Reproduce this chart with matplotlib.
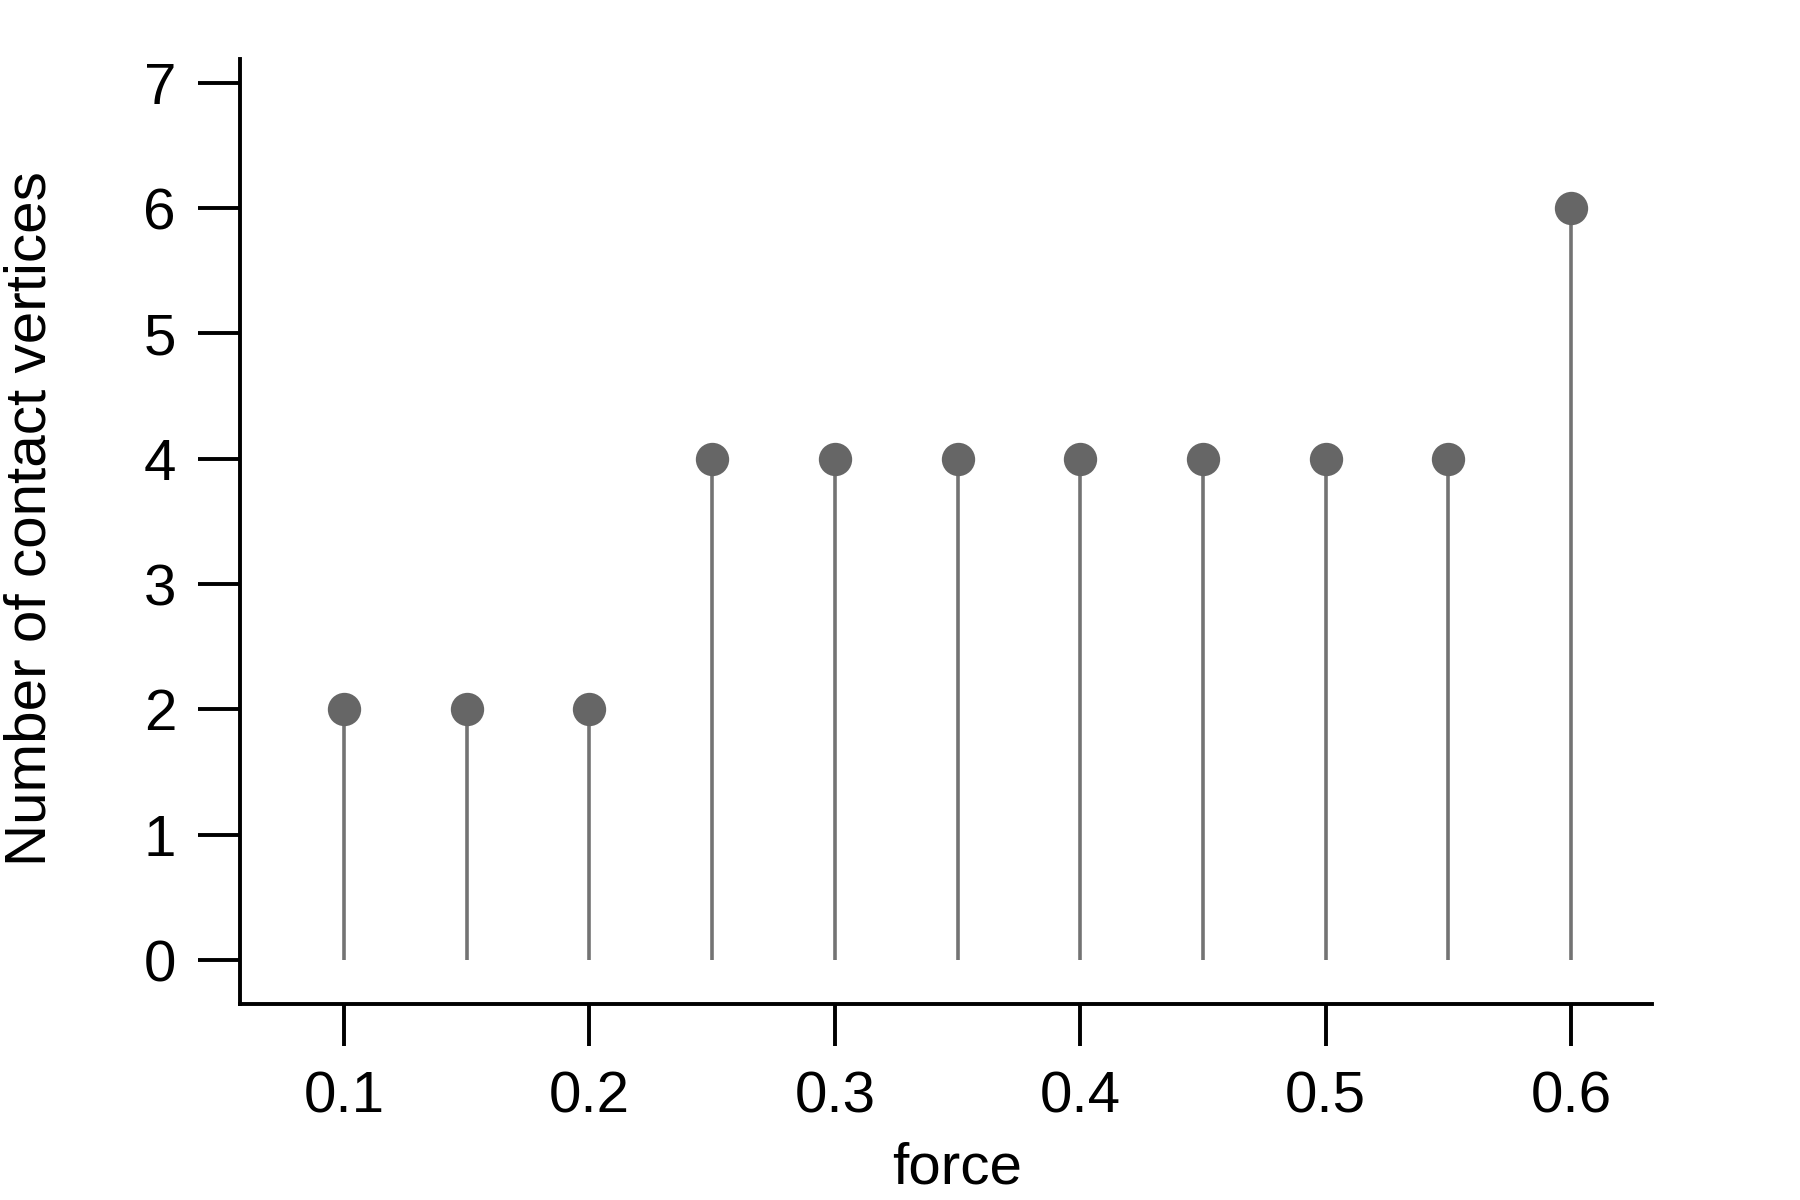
import matplotlib
matplotlib.use("Agg")
import matplotlib.pyplot as plt
import numpy as np

# data
force = [0.10, 0.15, 0.20, 0.25, 0.30, 0.35, 0.40, 0.45, 0.50, 0.55, 0.60]
contact_vertices = [2, 2, 2, 4, 4, 4, 4, 4, 4, 4, 6]
xticks = [0.1, 0.2, 0.3, 0.4, 0.5, 0.6]
yticks = [0, 1, 2, 3, 4, 5, 6, 7]

plt.rcParams['font.family'] = ['Liberation Sans', 'DejaVu Sans']

fig = plt.figure(figsize=(9, 6), dpi=200)
ax = fig.add_axes([0.1333, 0.1633, 0.7845, 0.7875])

markerline, stemlines, baseline = ax.stem(force, contact_vertices, basefmt=" ")
plt.setp(stemlines, color='#737373', linewidth=1.3)
plt.setp(markerline, color='#666666', markersize=12, markeredgewidth=0)
baseline.set_visible(False)

ax.set_xlim(0.0576, 0.633)
ax.set_ylim(-0.351, 7.19)
ax.set_xticks(xticks)
ax.set_xticklabels([f"{t:.1f}" for t in xticks])
ax.set_yticks(yticks)

for side in ['top', 'right']:
    ax.spines[side].set_visible(False)
for side in ['left', 'bottom']:
    ax.spines[side].set_linewidth(1.4)

ax.tick_params(axis='both', direction='out', length=15, width=1.4,
               labelsize=21, colors='black')
ax.tick_params(axis='y', pad=8)
ax.tick_params(axis='x', pad=9)

ax.set_xlabel('force', fontsize=21, labelpad=6)
ax.set_ylabel('Number of contact vertices', fontsize=21, labelpad=31)
ax.xaxis.label.set_x(0.508)
ax.yaxis.label.set_y(0.514)

fig.savefig('out.png', dpi=200)
